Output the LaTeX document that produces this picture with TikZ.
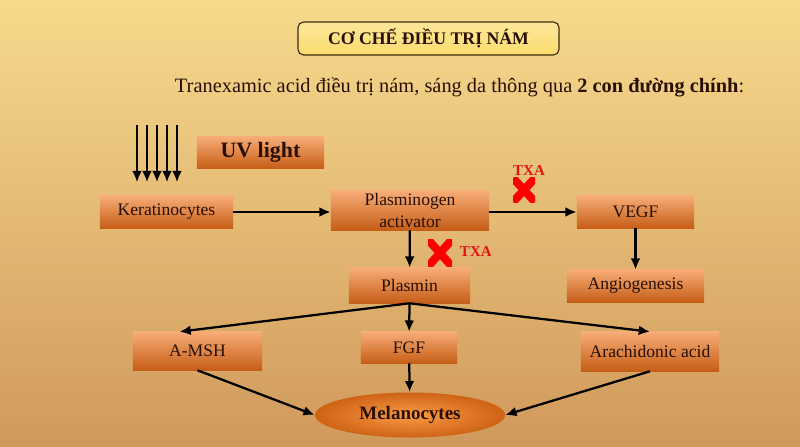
\documentclass[tikz,border=0pt]{standalone}
\usepackage{fontspec}
\setmainfont{Liberation Serif}
\usetikzlibrary{arrows.meta,shapes.geometric}
\definecolor{bgtop}{RGB}{247,218,140}
\definecolor{bgbot}{RGB}{208,153,92}
\definecolor{boxtop}{RGB}{247,172,118}
\definecolor{boxbot}{RGB}{198,94,24}
\definecolor{inkbrown}{RGB}{40,16,6}
\definecolor{titlefill}{RGB}{252,220,110}
\definecolor{titleline}{RGB}{60,44,12}
\definecolor{txared}{RGB}{225,20,20}
\begin{document}
\begin{tikzpicture}[x=0.025cm,y=-0.025cm,%
        every node/.style={font=\fontsize{12.5}{15}\selectfont,text=inkbrown},%
        box/.style={inner sep=1pt,align=center,top color=boxtop,bottom color=boxbot},%
        flow/.style={-{Latex[length=8pt,width=7pt]},line width=1.6pt,draw=black},%
        txa/.style={font=\fontsize{10.7}{12}\bfseries,text=txared},%
        cross/.style={inner sep=0pt,path picture={\draw[red,line width=5.8pt]
            (path picture bounding box.north west) -- (path picture bounding box.south east)
            (path picture bounding box.north east) -- (path picture bounding box.south west);}}]%
        \useasboundingbox (0,0) rectangle (800,446);
        \shade[top color=bgtop,bottom color=bgbot] (0,0) rectangle (800,446);
        % title and caption
        \node[draw=titleline,line width=0.8pt,rounded corners=4pt,top color=titlefill!70!white,
          bottom color=titlefill,minimum width=6.525cm,minimum height=0.825cm,
          font=\fontsize{12.6}{14}\bfseries] (title) at (428.5,38.5) {CƠ CHẾ ĐIỀU TRỊ NÁM};
        \node[anchor=base west,font=\fontsize{14.5}{17}\selectfont] (lead) at (170,93)
        {Tranexamic acid điều trị nám, sáng da thông qua \textbf{2 con đường chính}:};
        % boxes
        \node[box,minimum width=3.175cm,minimum height=0.775cm,font=\fontsize{15.6}{18}\bfseries]
        (uv) at (260.5,152.5) {UV light};
        \node[box,minimum width=3.325cm,minimum height=0.8cm] (kera) at (166.5,212) {Keratinocytes};
        \node[box,minimum width=3.95cm,minimum height=0.975cm] (pa) at (410,210.5) {Plasminogen\\activator};
        \node[box,minimum width=2.925cm,minimum height=0.8cm] (vegf) at (635.5,212) {VEGF};
        \node[box,minimum width=3.425cm,minimum height=0.8cm] (angio) at (635.5,286) {Angiogenesis};
        \node[box,minimum width=3.025cm,minimum height=0.875cm] (plasmin) at (409.5,285.5) {Plasmin};
        \node[box,minimum width=3.225cm,minimum height=0.95cm] (amsh) at (197.5,351) {A-MSH};
        \node[box,minimum width=2.4cm,minimum height=0.775cm] (fgf) at (409,347.5) {FGF};
        \node[box,minimum width=3.45cm,minimum height=0.975cm] (arach) at (650,351.5) {Arachidonic acid};
        \node[ellipse,inner sep=0pt,minimum width=4.75cm,minimum height=1.125cm,
          inner color=boxtop!60!orange,outer color=boxbot!85!orange,
          font=\fontsize{13.5}{15}\bfseries] (mel) at (410,415) {Melanocytes};
        % TXA blocks
        \node[cross,minimum width=0.55cm,minimum height=0.6cm] (x1) at (524,190) {};
        \node[txa] (t1) at (529,171) {TXA};
        \node[cross,minimum width=0.6cm,minimum height=0.675cm] (x2) at (440,253) {};
        \node[txa,anchor=west] (t2) at (455,252) {TXA};
        % UV rays
        \foreach \i in {0,...,4} {
          \coordinate (ray\i) at (137+10*\i,125); \coordinate (hit\i) at (137+10*\i,182);
          \draw[flow,line width=1.2pt] (ray\i) -- (hit\i);}
        % arrows
        \draw[flow] (kera) -- (pa.west |- kera);
        \draw[flow] (pa.east |- vegf) -- (vegf);
        \draw[flow] (pa) -- (plasmin);
        \draw[flow] (vegf) -- (angio);
        \draw[flow] (plasmin.south) -- ([xshift=-0.45cm]amsh.north);
        \draw[flow] (plasmin.south) -- (fgf);
        \draw[flow] (plasmin.south) -- (arach.north);
        \draw[flow] (amsh.south) -- (mel.west);
        \draw[flow] (fgf) -- (mel);
        \draw[flow] (arach.south) -- (mel.east);
      \end{tikzpicture}
\end{document}
